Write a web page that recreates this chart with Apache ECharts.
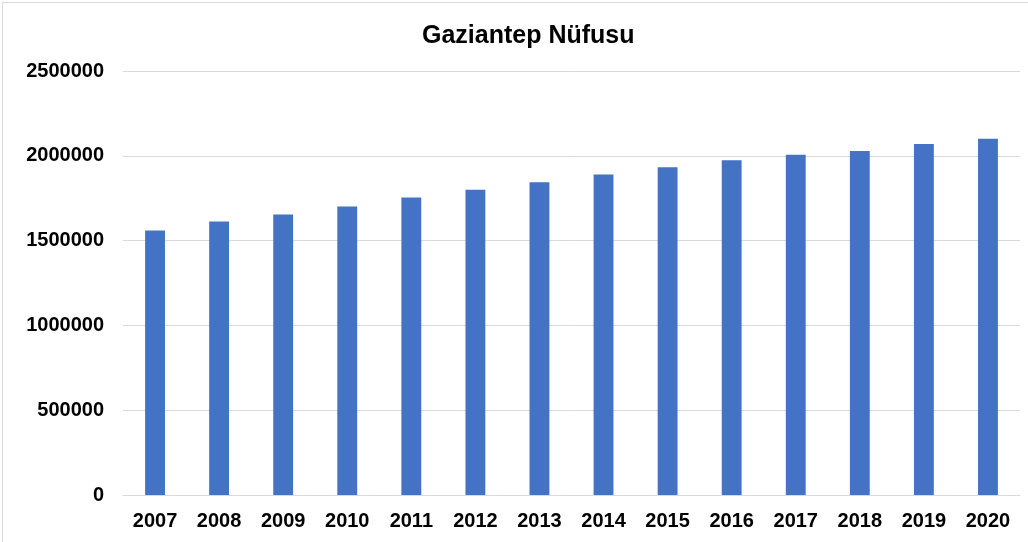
<!DOCTYPE html>
<html lang="tr">
<head>
    <meta charset="UTF-8">
    <title>Gaziantep Nüfusu</title>
    <style type="text/css">
        html,
        body {
            padding: 0;
            margin: 0;
            background-color: #fff;
            width: 100%;
            height: 100%;
            overflow: hidden;
        }
        .canvas {
            position: absolute;
            left: 2px;
            top: 2px;
            right: 0;
            bottom: 0;
            border-left: 1px solid #d9d9d9;
            border-top: 1px solid #d9d9d9;
        }
    </style>
</head>
<body>
<div class="canvas" id="chart"></div>
<script type="text/javascript" src="https://cdn.jsdelivr.net/npm/echarts@6/dist/echarts.min.js"></script>
<script>
    const years = ['2007', '2008', '2009', '2010', '2011', '2012', '2013',
        '2014', '2015', '2016', '2017', '2018', '2019', '2020'];
    const population = [1560023, 1612223, 1653670, 1700763, 1753596, 1799558, 1844438,
        1889466, 1931836, 1974244, 2005515, 2028563, 2069364, 2101157];

    const font = 'Liberation Sans, Arial, sans-serif';
    const chart = echarts.init(document.getElementById('chart'));

    chart.setOption({
        animation: false,
        title: {
            text: 'Gaziantep Nüfusu',
            left: 414,
            top: 16,
            textStyle: {fontFamily: font, fontSize: 25, fontWeight: 'bold', color: '#000'}
        },
        grid: {left: 120, right: 8, top: 68, bottom: 47},
        xAxis: {
            type: 'category',
            data: years,
            axisTick: {show: false},
            axisLine: {lineStyle: {color: '#d9d9d9', width: 1}},
            axisLabel: {
                fontFamily: font, fontSize: 20, fontWeight: 'bold', color: '#000', margin: 16
            }
        },
        yAxis: {
            type: 'value',
            min: 0,
            max: 2500000,
            interval: 500000,
            axisLine: {show: false},
            axisTick: {show: false},
            splitLine: {lineStyle: {color: '#d9d9d9', width: 1}},
            axisLabel: {
                fontFamily: font, fontSize: 20, fontWeight: 'bold', color: '#000', margin: 19,
                formatter: function (v) { return String(v); }
            }
        },
        series: [{
            type: 'bar',
            data: population,
            barWidth: '31%',
            itemStyle: {color: '#4472c4'}
        }]
    });
</script>
</body>
</html>
